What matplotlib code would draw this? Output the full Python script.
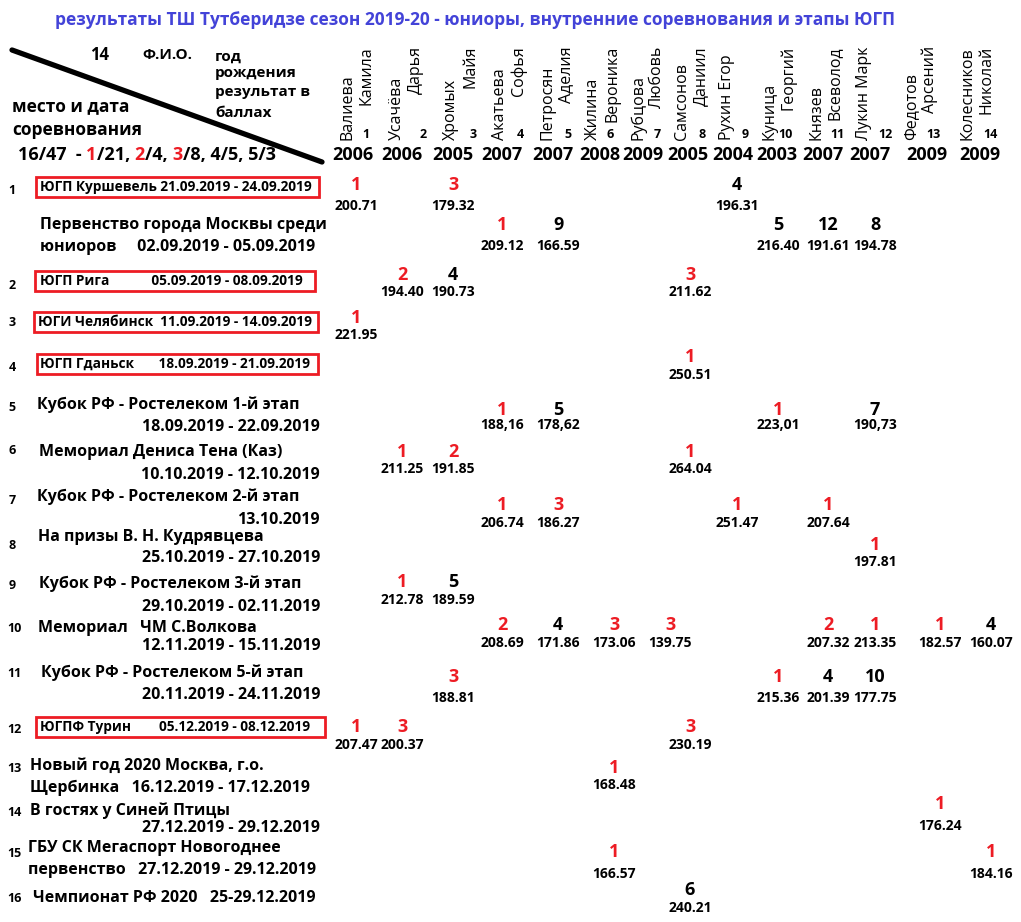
import matplotlib
matplotlib.use('Agg')
import matplotlib.pyplot as plt
from matplotlib.patches import Rectangle

plt.rcParams['font.family'] = ['Open Sans', 'DejaVu Sans']

# --- данные ---
title = 'результаты ТШ Тутберидзе сезон 2019-20 - юниоры, внутренние соревнования и этапы ЮГП'

surnames = ['Валиева', 'Усачёва', 'Хромых', 'Акатьева', 'Петросян', 'Жилина', 'Рубцова',
            'Самсонов', 'Рухин Егор', 'Куница', 'Князев', 'Лукин Марк', 'Федотов', 'Колесников']
firstnames = ['Камила', 'Дарья', 'Майя', 'Софья', 'Аделия', 'Вероника', 'Любовь',
              'Даниил', '', 'Георгий', 'Всеволод', '', 'Арсений', 'Николай']
years = [2006, 2006, 2005, 2007, 2007, 2008, 2009, 2005, 2004, 2003, 2007, 2007, 2009, 2009]

# номер, строка 1, строка 2, этап ЮГП (в рамке)
event_nums = ['1', '', '2', '3', '4', '5', '6', '7', '8', '9', '10', '11', '12', '13', '14', '15', '16']
event_line1 = ['ЮГП Куршевель 21.09.2019 - 24.09.2019',
               'Первенство города Москвы среди',
               'ЮГП Рига            05.09.2019 - 08.09.2019',
               'ЮГИ Челябинск  11.09.2019 - 14.09.2019',
               'ЮГП Гданьск       18.09.2019 - 21.09.2019',
               'Кубок РФ - Ростелеком 1-й этап',
               'Мемориал Дениса Тена (Каз)',
               'Кубок РФ - Ростелеком 2-й этап',
               'На призы В. Н. Кудрявцева',
               'Кубок РФ - Ростелеком 3-й этап',
               'Мемориал   ЧМ С.Волкова',
               'Кубок РФ - Ростелеком 5-й этап',
               'ЮГПФ Турин        05.12.2019 - 08.12.2019',
               'Новый год 2020 Москва, г.о.',
               'В гостях у Синей Птицы',
               'ГБУ СК Мегаспорт Новогоднее',
               'Чемпионат РФ 2020   25-29.12.2019']
event_line2 = ['', 'юниоров     02.09.2019 - 05.09.2019', '', '', '',
               '18.09.2019 - 22.09.2019', '10.10.2019 - 12.10.2019', '13.10.2019',
               '25.10.2019 - 27.10.2019', '29.10.2019 - 02.11.2019', '12.11.2019 - 15.11.2019',
               '20.11.2019 - 24.11.2019', '', 'Щербинка   16.12.2019 - 17.12.2019',
               '27.12.2019 - 29.12.2019', 'первенство   27.12.2019 - 29.12.2019', '']
event_boxed = [True, False, True, True, True, False, False, False, False, False, False,
               False, True, False, False, False, False]

# результаты: (номер спортсмена, место, баллы)
results = [
    [(1, 1, '200.71'), (3, 3, '179.32'), (9, 4, '196.31')],
    [(4, 1, '209.12'), (5, 9, '166.59'), (10, 5, '216.40'), (11, 12, '191.61'), (12, 8, '194.78')],
    [(2, 2, '194.40'), (3, 4, '190.73'), (8, 3, '211.62')],
    [(1, 1, '221.95')],
    [(8, 1, '250.51')],
    [(4, 1, '188,16'), (5, 5, '178,62'), (10, 1, '223,01'), (12, 7, '190,73')],
    [(2, 1, '211.25'), (3, 2, '191.85'), (8, 1, '264.04')],
    [(4, 1, '206.74'), (5, 3, '186.27'), (9, 1, '251.47'), (11, 1, '207.64')],
    [(12, 1, '197.81')],
    [(2, 1, '212.78'), (3, 5, '189.59')],
    [(4, 2, '208.69'), (5, 4, '171.86'), (6, 3, '173.06'), (7, 3, '139.75'),
     (11, 2, '207.32'), (12, 1, '213.35'), (13, 1, '182.57'), (14, 4, '160.07')],
    [(3, 3, '188.81'), (10, 1, '215.36'), (11, 4, '201.39'), (12, 10, '177.75')],
    [(1, 1, '207.47'), (2, 3, '200.37'), (8, 3, '230.19')],
    [(6, 1, '168.48')],
    [(13, 1, '176.24')],
    [(6, 1, '166.57'), (14, 1, '184.16')],
    [(8, 6, '240.21')],
]

# --- раскладка (пиксели) ---
year_x = [353, 402, 453, 502, 553, 600, 643, 688, 733, 777, 823, 870, 927, 980]
surname_x = [347, 397, 451, 500, 547, 593, 638, 682, 727, 769, 816, 864, 911, 967]
num_x = [366, 423, 473, 520, 568, 610, 657, 702, 745, 785, 837, 885, 933, 990]
cell_x = [356, 402, 453, 502, 558, 614, 670, 690, 737, 778, 828, 875, 940, 991]

num_y = [191, None, 285, 322, 367, 407, 450, 500, 545, 585, 628, 673, 729, 768, 812, 853, 898]
line1_y = [187, 225, 281, 322, 364, 405, 452, 497, 537, 584, 628, 673, 727, 766, 811, 848, 898]
line2_y = [None, 247, None, None, None, 427, 475, 520, 558, 607, 646, 695, None, 788, 828, 870, None]
line1_x = [40, 40, 40, 38, 40, 37, 39, 37, 38, 39, 38, 41, 40, 30, 30, 28, 33]
box_x = [36, None, 35, 34, 37, None, None, None, None, None, None, None, 36, None, None, None, None]
box_w = [283, None, 280, 284, 281, None, None, None, None, None, None, None, 289, None, None, None, None]
place_y = [185, 225, 275, 318, 357, 410, 452, 505, 545, 582, 625, 677, 727, 768, 804, 852, 890]
score_y = [206, 246, 292, 335, 375, 425, 469, 523, 562, 600, 643, 698, 745, 785, 826, 874, 908]

RED = '#ed1c24'

fig = plt.figure(figsize=(10.21, 9.22), dpi=100)
ax = fig.add_axes([0, 0, 1, 1])
ax.set_xlim(0, 1021)
ax.set_ylim(922, 0)
ax.axis('off')

ax.text(475, 20, title, color='#4343d8', fontsize=12.5, fontweight='bold', ha='center', va='center')

# левый верхний угол
ax.plot([12, 322], [50, 162], color='black', lw=3.8, solid_capstyle='round')
ax.text(100, 55, '14', fontsize=12, fontweight='bold', ha='center', va='center')
ax.text(142, 55, 'Ф.И.О.', fontsize=11, fontweight='bold', ha='left', va='center')
for txt, yy in zip(['год', 'рождения', 'результат в', 'баллах'], [57, 73, 92, 113]):
    ax.text(215, yy, txt, fontsize=11, fontweight='bold', ha='left', va='center')
ax.text(12, 106, 'место и дата', fontsize=12.5, fontweight='bold', ha='left', va='center')
ax.text(12, 130, 'соревнования', fontsize=12.5, fontweight='bold', ha='left', va='center')

summary = [('16/47  - ', 'black'), ('1', RED), ('/21, ', 'black'), ('2', RED), ('/4, ', 'black'),
           ('3', RED), ('/8, 4/5, 5/3', 'black')]
xx = 18
for part, col in summary:
    t = ax.text(xx, 155, part, fontsize=13, fontweight='bold', color=col, ha='left', va='center')
    fig.canvas.draw()
    bb = t.get_window_extent()
    xx += bb.width

# шапка спортсменов
for i in range(len(surnames)):
    ax.text(surname_x[i], 140, surnames[i], rotation=90, fontsize=11.5, ha='center', va='bottom')
    if firstnames[i]:
        ax.text(surname_x[i] + 19, 46, firstnames[i], rotation=90, fontsize=11.5, ha='center', va='top')
    ax.text(num_x[i], 134, str(i + 1), fontsize=9, fontweight='bold', ha='center', va='center')
    ax.text(year_x[i], 155, str(years[i]), fontsize=13, fontweight='bold', ha='center', va='center')

# соревнования
for k in range(len(event_line1)):
    if event_nums[k]:
        ax.text(12 if len(event_nums[k]) == 1 else 14, num_y[k], event_nums[k],
                fontsize=9, fontweight='bold', ha='center', va='center')
    if event_boxed[k]:
        ax.add_patch(Rectangle((box_x[k], line1_y[k] - 10), box_w[k], 20, fill=False,
                               edgecolor=RED, lw=2))
        ax.text(line1_x[k], line1_y[k], event_line1[k], fontsize=9.8, fontweight='bold',
                ha='left', va='center')
    else:
        ax.text(line1_x[k], line1_y[k], event_line1[k], fontsize=11.5, fontweight='bold',
                ha='left', va='center')
    if event_line2[k]:
        if event_line2[k][0].isdigit():
            ax.text(320, line2_y[k], event_line2[k], fontsize=11.5, fontweight='bold',
                    ha='right', va='center')
        else:
            ax.text(line1_x[k], line2_y[k], event_line2[k], fontsize=11.5, fontweight='bold',
                    ha='left', va='center')

    for athlete, place, score in results[k]:
        x = cell_x[athlete - 1]
        ax.text(x, place_y[k], str(place), fontsize=13, fontweight='bold',
                color=RED if place <= 3 else 'black', ha='center', va='center')
        ax.text(x, score_y[k], score, fontsize=10, fontweight='bold', ha='center', va='center')

fig.savefig('out.png', dpi=100)
